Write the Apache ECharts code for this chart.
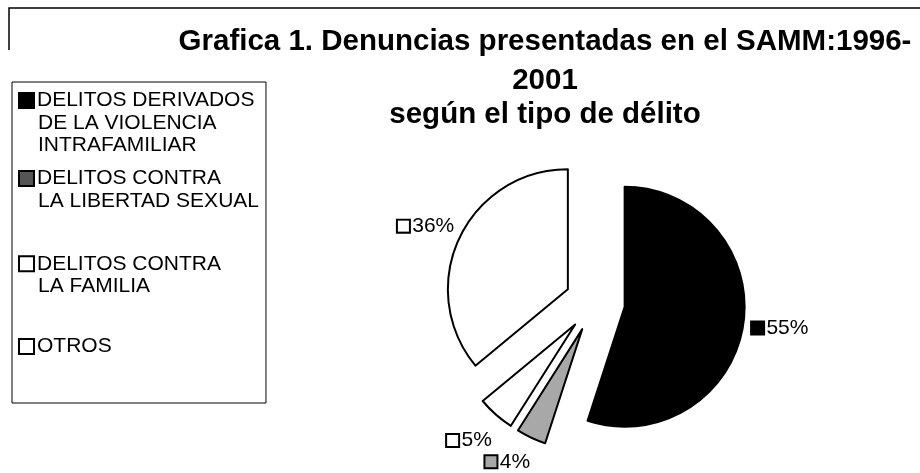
<!DOCTYPE html>
<html>
<head>
<meta charset="utf-8">
<script src="https://cdn.jsdelivr.net/npm/echarts@6/dist/echarts.min.js"></script>
<style>
  html, body { margin: 0; padding: 0; background: #fff; }
  #main { width: 920px; height: 473px; }
</style>
</head>
<body>
<div id="main"></div>
<script>
  // data
  var titleLines = ['Grafica 1. Denuncias presentadas en el SAMM:1996-', '2001', 'según el tipo de délito'];
  var categories = [
    'DELITOS DERIVADOS\nDE LA VIOLENCIA\nINTRAFAMILIAR',
    'DELITOS CONTRA\nLA LIBERTAD SEXUAL',
    'DELITOS CONTRA\nLA FAMILIA',
    'OTROS'
  ];
  var values = [55, 4, 5, 36];

  // look
  var FONT = '"Liberation Sans", Arial, Helvetica, sans-serif';
  var sliceColors = ['#000000', '#a8a8a8', '#ffffff', '#ffffff'];
  var legendBoxColors = ['#000000', '#555555', '#ffffff', '#ffffff'];
  // excel placed its labels loosely, nudge them a bit
  var labelLens = [4, 0, 0, 0];
  var labelShift = [[0, 2], [4, 24], [1, 26], [0, -12]];
  var legendSpacers = ['', '\n{sp2| }', '\n{sp3| }', ''];

  var chart = echarts.init(document.getElementById('main'));

  var legendRich = {
    t: { fontSize: 21, fontFamily: FONT, color: '#000', lineHeight: 22.5 },
    gap: { width: 4 },
    ind: { width: 18 },
    sp2: { fontSize: 1, lineHeight: 57 },
    sp3: { fontSize: 1, lineHeight: 52 }
  };
  var labelRich = {
    v: { fontSize: 21, fontFamily: FONT, color: '#000', lineHeight: 22 }
  };
  legendBoxColors.forEach(function (c, i) {
    legendRich['b' + i] = { width: 13, height: 13, backgroundColor: c, borderColor: '#000', borderWidth: 2 };
  });
  sliceColors.forEach(function (c, i) {
    labelRich['b' + i] = { width: 11, height: 11, backgroundColor: c, borderColor: '#000', borderWidth: 2 };
  });

  var option = {
    animation: false,
    backgroundColor: '#fff',
    title: {
      text: '{a|' + titleLines[0] + '}\n{a|' + titleLines[1] + '}\n{b|' + titleLines[2] + '}',
      left: 545,
      top: 22,
      padding: 0,
      textAlign: 'center',
      textStyle: {
        rich: {
          a: { fontSize: 29.5, fontWeight: 'bold', fontFamily: FONT, color: '#000', lineHeight: 39 },
          b: { fontSize: 29.5, fontWeight: 'bold', fontFamily: FONT, color: '#000', lineHeight: 29 }
        }
      }
    },
    legend: {
      orient: 'vertical',
      left: 12,
      top: 82,
      padding: [8, 7, 46, 3],
      itemGap: 12,
      itemWidth: 0,
      itemHeight: 14,
      icon: 'none',
      borderColor: '#000',
      borderWidth: 1,
      selectedMode: false,
      data: categories,
      formatter: function (name) {
        var i = categories.indexOf(name);
        var lines = name.split('\n');
        var out = '{b' + i + '|}{gap|}{t|' + lines[0] + '}';
        for (var k = 1; k < lines.length; k++) {
          out += '\n{ind|}{t|' + lines[k] + '}';
        }
        return out + legendSpacers[i];
      },
      textStyle: { fontSize: 21, fontFamily: FONT, color: '#000', rich: legendRich }
    },
    graphic: [{
      type: 'polyline',
      shape: { points: [[9, 50], [9, 8], [920, 8]] },
      style: { stroke: '#000', lineWidth: 1.5, fill: null }
    }],
    series: [{
      type: 'pie',
      center: [595, 302],
      radius: 120,
      startAngle: 90,
      clockwise: true,
      selectedMode: 'multiple',
      selectedOffset: 30,
      avoidLabelOverlap: false,
      itemStyle: { borderColor: '#000', borderWidth: 2 },
      emphasis: { disabled: true },
      label: {
        show: true,
        position: 'outside',
        distanceToLabelLine: 5,
        formatter: function (p) {
          return '{b' + p.dataIndex + '|} {v|' + p.value + '%}';
        },
        rich: labelRich
      },
      labelLine: { show: false, length2: 0 },
      labelLayout: function (p) {
        return {
          dx: labelShift[p.dataIndex][0],
          dy: labelShift[p.dataIndex][1],
          hideOverlap: false,
          moveOverlap: null
        };
      },
      data: values.map(function (v, i) {
        return {
          name: categories[i],
          value: v,
          selected: true,
          itemStyle: { color: sliceColors[i] },
          labelLine: { length: labelLens[i] }
        };
      })
    }]
  };

  chart.setOption(option);
</script>
</body>
</html>
